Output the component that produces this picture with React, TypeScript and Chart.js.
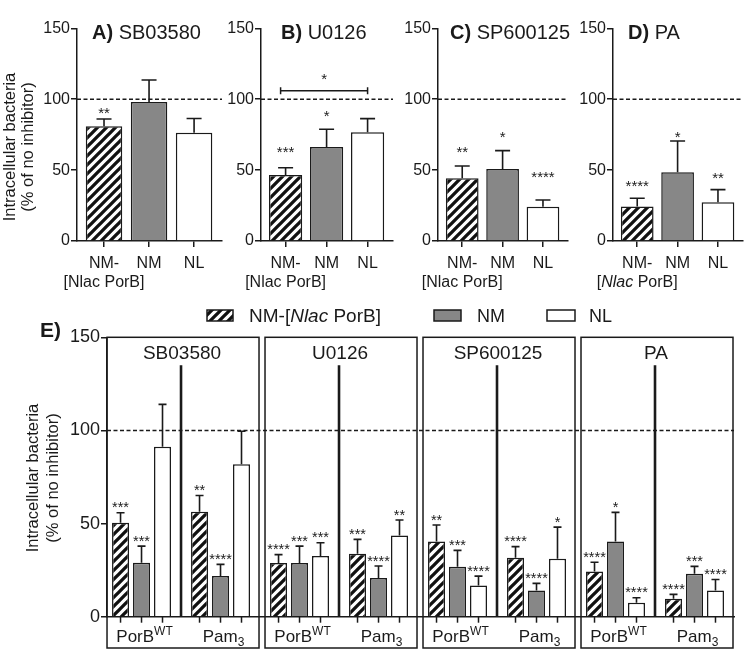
import { useEffect, useRef } from 'react';
import { Chart, registerables } from 'chart.js';

Chart.register(...registerables);

const FAMILY = '"Liberation Sans", Arial, Helvetica, sans-serif';
const INK = '#1a1a1a';
const GREY = '#878787';
const W = 754;
const H = 653;

// ---------- Panels A–D ----------
const inhibitors = ['SB03580', 'U0126', 'SP600125', 'PA'];
const panelLetters = ['A)', 'B)', 'C)', 'D)'];
const strains = ['NM-[Nlac PorB]', 'NM', 'NL'];
const topLabels = [['NM-', '[Nlac PorB]'], ['NM'], ['NL']];
const topLabelsD = [['NM-', ' '], ['NM'], ['NL']];
const yTickValues = [0, 50, 100, 150];
const refLevel = 100;

const meanA = [81, 98, 76.3];
const errA = [86, 113.5, 86.4];
const meanB = [46.5, 66.3, 76.7];
const errB = [51.7, 78.8, 86.3];
const meanC = [44.2, 50.8, 24.2];
const errC = [52.9, 63.7, 28.9];
const meanD = [24.4, 48.4, 27.3];
const errD = [30.1, 70.5, 36.2];

const sigA = ['**', '', ''];
const sigB = ['***', '*', ''];
const sigC = ['**', '*', '****'];
const sigD = ['****', '*', '**'];
const sigLevelA = [93, 0, 0];
const sigLevelB = [65.4, 90.5, 0];
const sigLevelC = [65.4, 76.2, 47.7];
const sigLevelD = [41.4, 76, 47];

const bracketB = [0, 2];
const bracketLevelB = 106;
const bracketSigB = '*';
const bracketSigLevelB = 117;

// ---------- Panel E ----------
const groupsE = ['SB03580', 'U0126', 'SP600125', 'PA'];
const stimuliE = ['PorB', 'Pam'];
const stimuliMarks = ['WT', '3'];
const hatchE = [50.4, 56.4, 28.8, 33.8, 40.4, 31.7, 24.2, 9.7];
const hatchErrE = [55.8, 65.1, 33.3, 41.5, 49.2, 37.6, 29.2, 12.0];
const nmE = [29, 21.8, 28.8, 20.8, 26.8, 14, 40.4, 23.1];
const nmErrE = [37.9, 28.1, 37.9, 27.2, 35.6, 17.9, 56, 27];
const nlE = [91.2, 81.8, 32.6, 43.6, 16.8, 31.1, 7.5, 14];
const nlErrE = [114, 99.6, 39.7, 51.9, 21.8, 48.1, 10.2, 20];
const hatchSigE = ['***', '**', '****', '***', '**', '****', '****', '****'];
const nmSigE = ['***', '****', '***', '****', '***', '****', '*', '***'];
const nlSigE = ['', '', '***', '**', '****', '*', '****', '****'];
const dividerLevelE = 135;

// ---------- layout constants ----------
const TOP_AREAS = [[77, 222], [261, 393], [438, 568], [613, 743]];
const TOP_TITLE_X = [92, 281, 450, 628];
const TOP_Y = 28.3;
const TOP_BOTTOM = 241;
const E_LEFT = 107;
const E_RIGHT = 734;
const E_TOP = 337.3;
const E_BOTTOM = 616.7;
const X_LABEL_PAD = 7;

function f(size: number, style = '') {
  return `${style} ${size}px ${FAMILY}`.trim();
}

function makeHatch(): CanvasPattern {
  const s = 9;
  const c = document.createElement('canvas');
  c.width = s;
  c.height = s;
  const g = c.getContext('2d')!;
  g.fillStyle = '#fff';
  g.fillRect(0, 0, s, s);
  g.strokeStyle = '#111';
  g.lineWidth = 3.3;
  g.beginPath();
  g.moveTo(-1, s + 1);
  g.lineTo(s + 1, -1);
  g.moveTo(-s / 2 - 1, s / 2 + 1);
  g.lineTo(s / 2 + 1, -s / 2 - 1);
  g.moveTo(s / 2 - 1, s * 1.5 + 1);
  g.lineTo(s * 1.5 + 1, s / 2 - 1);
  g.stroke();
  return g.createPattern(c, 'repeat')!;
}

type Run = { t: string; font: string; dy?: number };
function drawRuns(ctx: CanvasRenderingContext2D, runs: Run[], x: number, y: number, align: 'left' | 'center') {
  let total = 0;
  const widths = runs.map((r) => {
    ctx.font = r.font;
    const w = ctx.measureText(r.t).width;
    total += w;
    return w;
  });
  let cx = align === 'center' ? x - total / 2 : x;
  ctx.textAlign = 'left';
  runs.forEach((r, i) => {
    ctx.font = r.font;
    ctx.fillText(r.t, cx, y + (r.dy || 0));
    cx += widths[i];
  });
}

function dashedRef(chart: any) {
  const { ctx, chartArea: a, scales } = chart;
  const yy = scales.y.getPixelForValue(refLevel);
  ctx.save();
  ctx.strokeStyle = INK;
  ctx.lineWidth = 1.4;
  ctx.setLineDash([4, 2.5]);
  ctx.beginPath();
  ctx.moveTo(a.left, yy);
  ctx.lineTo(a.right, yy);
  ctx.stroke();
  ctx.restore();
}

function errorBar(ctx: CanvasRenderingContext2D, x: number, y0: number, y1: number, cap: number) {
  ctx.beginPath();
  ctx.moveTo(x, y0);
  ctx.lineTo(x, y1);
  ctx.moveTo(x - cap / 2, y1);
  ctx.lineTo(x + cap / 2, y1);
  ctx.stroke();
}

function yTitle(ctx: CanvasRenderingContext2D, x1: number, x2: number, cy: number, size: number) {
  ctx.save();
  ctx.fillStyle = INK;
  ctx.font = f(size);
  ctx.textAlign = 'center';
  ctx.textBaseline = 'middle';
  ctx.translate(x1, cy);
  ctx.rotate(-Math.PI / 2);
  ctx.fillText('Intracellular bacteria', 0, 0);
  ctx.restore();
  ctx.save();
  ctx.fillStyle = INK;
  ctx.font = f(size);
  ctx.textAlign = 'center';
  ctx.textBaseline = 'middle';
  ctx.translate(x2, cy);
  ctx.rotate(-Math.PI / 2);
  ctx.fillText('(% of no inhibitor)', 0, 0);
  ctx.restore();
}

function topConfig(k: number, hatch: CanvasPattern): any {
  const means = [meanA, meanB, meanC, meanD][k];
  const errs = [errA, errB, errC, errD][k];
  const sigs = [sigA, sigB, sigC, sigD][k];
  const sigLevels = [sigLevelA, sigLevelB, sigLevelC, sigLevelD][k];
  const labels = k === 3 ? topLabelsD : topLabels;
  const [left, right] = TOP_AREAS[k];
  const YW = 40;
  const XH = 50;

  const overlay = {
    id: 'topOverlay',
    beforeDatasetsDraw(chart: any) {
      dashedRef(chart);
    },
    afterDraw(chart: any) {
      const { ctx, scales } = chart;
      const y = scales.y;
      const x = scales.x;
      const meta = chart.getDatasetMeta(0);
      ctx.save();
      ctx.strokeStyle = INK;
      ctx.fillStyle = INK;
      ctx.lineWidth = 1.6;
      meta.data.forEach((bar: any, i: number) => {
        errorBar(ctx, bar.x, bar.y, y.getPixelForValue(errs[i]), 15);
        if (sigs[i]) {
          ctx.font = f(15);
          ctx.textAlign = 'center';
          ctx.textBaseline = 'alphabetic';
          ctx.fillText(sigs[i], bar.x, y.getPixelForValue(sigLevels[i]) + 8.7);
        }
      });
      if (k === 1) {
        const bx0 = x.getPixelForValue(bracketB[0]) - 5;
        const bx1 = x.getPixelForValue(bracketB[1]);
        const by = y.getPixelForValue(bracketLevelB);
        ctx.lineWidth = 1.5;
        ctx.beginPath();
        ctx.moveTo(bx0, by);
        ctx.lineTo(bx1, by);
        ctx.moveTo(bx0, by - 3.5);
        ctx.lineTo(bx0, by + 3.5);
        ctx.moveTo(bx1, by - 3.5);
        ctx.lineTo(bx1, by + 3.5);
        ctx.stroke();
        ctx.font = f(15);
        ctx.textAlign = 'center';
        ctx.textBaseline = 'alphabetic';
        ctx.fillText(bracketSigB, (bx0 + bx1) / 2, y.getPixelForValue(bracketSigLevelB) + 8.7);
      }
      ctx.textBaseline = 'alphabetic';
      drawRuns(ctx, [
        { t: panelLetters[k] + ' ', font: f(20, 'bold') },
        { t: inhibitors[k], font: f(20) },
      ], TOP_TITLE_X[k], 39, 'left');
      if (k === 3) {
        const ly = x.top + 6 + X_LABEL_PAD + 16 * 1.2 * 1.5;
        ctx.textBaseline = 'middle';
        drawRuns(ctx, [
          { t: '[', font: f(16) },
          { t: 'Nlac', font: f(16, 'italic') },
          { t: ' PorB]', font: f(16) },
        ], x.getPixelForValue(0), ly, 'center');
      }
      ctx.restore();
      if (k === 0) yTitle(ctx, 10, 28, 147, 16.5);
    },
  };

  return {
    type: 'bar',
    data: {
      datasets: [
        {
          label: strains.join(' / '),
          data: means.map((v, i) => ({ x: i, y: v })),
          backgroundColor: [hatch, GREY, '#ffffff'],
          borderColor: INK,
          borderWidth: 1.5,
          borderSkipped: 'start',
          categoryPercentage: 0.81,
          barPercentage: 1,
        },
      ],
    },
    options: {
      responsive: false,
      animation: false,
      events: [],
      layout: {
        padding: { left: left - YW, right: W - right, top: TOP_Y, bottom: H - TOP_BOTTOM - XH },
      },
      plugins: { legend: { display: false }, tooltip: { enabled: false }, title: { display: false } },
      scales: {
        x: {
          type: 'linear',
          min: -0.6,
          max: 2.62,
          offset: false,
          ticks: {
            stepSize: 1,
            includeBounds: false,
            autoSkip: false,
            maxRotation: 0,
            padding: X_LABEL_PAD,
            color: INK,
            font: { size: 16, family: FAMILY },
            callback: (v: number) => labels[v] || '',
          },
          grid: { drawOnChartArea: false, offset: false, drawTicks: true, tickLength: 6, color: INK, lineWidth: 1.5 },
          border: { color: INK, width: 1.5 },
          afterFit: (s: any) => {
            s.height = XH;
          },
        },
        y: {
          min: 0,
          max: 150,
          afterBuildTicks: (s: any) => {
            s.ticks = yTickValues.map((v) => ({ value: v }));
          },
          ticks: { padding: 1, color: INK, font: { size: 16, family: FAMILY } },
          grid: { drawOnChartArea: false, drawTicks: true, tickLength: 6, color: INK, lineWidth: 1.5 },
          border: { color: INK, width: 1.5 },
          afterFit: (s: any) => {
            s.width = YW;
          },
        },
      },
    },
    plugins: [overlay],
  };
}

function eConfig(hatch: CanvasPattern): any {
  const YW = 60;
  const XH = 30;
  const errSets = [hatchErrE, nmErrE, nlErrE];
  const sigSets = [hatchSigE, nmSigE, nlSigE];
  const fills: any[] = [hatch, GREY, '#ffffff'];
  const pxPerUnit = (E_RIGHT - E_LEFT) / 7.937;

  const overlay = {
    id: 'eOverlay',
    beforeDatasetsDraw(chart: any) {
      const { ctx, scales } = chart;
      const x = scales.x;
      const y = scales.y;
      dashedRef(chart);
      ctx.save();
      ctx.strokeStyle = INK;
      ctx.lineWidth = 1.5;
      for (let g = 0; g < groupsE.length; g++) {
        const l = x.getPixelForValue(2 * g - 0.5) + 5;
        const r = x.getPixelForValue(2 * g + 1.5) - 1;
        ctx.strokeRect(l, y.getPixelForValue(150), r - l, 648 - y.getPixelForValue(150));
      }
      ctx.lineWidth = 2.6;
      for (let g = 0; g < groupsE.length; g++) {
        const dx = x.getPixelForValue(2 * g + 0.5);
        ctx.beginPath();
        ctx.moveTo(dx, y.getPixelForValue(dividerLevelE));
        ctx.lineTo(dx, y.getPixelForValue(0));
        ctx.stroke();
      }
      ctx.restore();
    },
    afterDraw(chart: any) {
      const { ctx, scales } = chart;
      const x = scales.x;
      const y = scales.y;
      ctx.save();
      ctx.strokeStyle = INK;
      ctx.fillStyle = INK;
      for (let d = 0; d < 3; d++) {
        const meta = chart.getDatasetMeta(d);
        meta.data.forEach((bar: any, i: number) => {
          ctx.lineWidth = 1.6;
          const top = y.getPixelForValue(errSets[d][i]);
          errorBar(ctx, bar.x, bar.y, top, 8);
          ctx.lineWidth = 1.5;
          ctx.beginPath();
          ctx.moveTo(bar.x, y.getPixelForValue(0));
          ctx.lineTo(bar.x, y.getPixelForValue(0) + 6);
          ctx.stroke();
          if (sigSets[d][i]) {
            ctx.font = f(14.5);
            ctx.textAlign = 'center';
            ctx.textBaseline = 'alphabetic';
            ctx.fillText(sigSets[d][i], bar.x, top - 0.5);
          }
        });
      }
      // category labels
      ctx.textBaseline = 'alphabetic';
      for (let i = 0; i < 8; i++) {
        const s = i % 2;
        const cx = x.getPixelForValue(i) + 3;
        drawRuns(ctx, [
          { t: stimuliE[s], font: f(17) },
          { t: stimuliMarks[s], font: f(12), dy: s === 0 ? -7 : 4 },
        ], cx, 642, 'center');
      }
      // box titles
      ctx.font = f(19);
      ctx.textAlign = 'center';
      for (let g = 0; g < groupsE.length; g++) {
        ctx.fillText(groupsE[g], x.getPixelForValue(2 * g + 0.5) + 1, 359);
      }
      // legend
      const sw = [[207, 233], [434, 461], [547, 575]];
      for (let d = 0; d < 3; d++) {
        ctx.fillStyle = fills[d];
        ctx.fillRect(sw[d][0], 310, sw[d][1] - sw[d][0], 11);
        ctx.lineWidth = 1.5;
        ctx.strokeStyle = INK;
        ctx.strokeRect(sw[d][0], 310, sw[d][1] - sw[d][0], 11);
      }
      ctx.fillStyle = INK;
      ctx.textBaseline = 'alphabetic';
      drawRuns(ctx, [
        { t: 'NM-[', font: f(19) },
        { t: 'Nlac', font: f(19, 'italic') },
        { t: ' PorB]', font: f(19) },
      ], 249, 322, 'left');
      drawRuns(ctx, [{ t: strains[1], font: f(18) }], 477, 322, 'left');
      drawRuns(ctx, [{ t: strains[2], font: f(18) }], 589, 322, 'left');
      // panel label
      drawRuns(ctx, [{ t: 'E)', font: f(21, 'bold') }], 40, 337, 'left');
      ctx.restore();
      yTitle(ctx, 33, 53, 478, 16.5);
    },
  };

  const series = [hatchE, nmE, nlE];
  return {
    type: 'bar',
    data: {
      datasets: series.map((vals, d) => ({
        label: strains[d],
        data: vals.map((v, i) => ({ x: i, y: v })),
        backgroundColor: fills[d],
        borderColor: INK,
        borderWidth: 1.5,
        borderSkipped: 'start',
        categoryPercentage: 0.797,
        barPercentage: 0.81,
      })),
    },
    options: {
      responsive: false,
      animation: false,
      events: [],
      layout: {
        padding: { left: E_LEFT - YW, right: W - E_RIGHT, top: E_TOP, bottom: H - E_BOTTOM - XH },
      },
      plugins: { legend: { display: false }, tooltip: { enabled: false }, title: { display: false } },
      scales: {
        x: {
          type: 'linear',
          min: 7.5 - (E_RIGHT - E_LEFT) / pxPerUnit,
          max: 7.5,
          offset: false,
          ticks: { display: false, stepSize: 1, includeBounds: false, autoSkip: false },
          grid: { display: false, offset: false },
          border: { color: INK, width: 1.5 },
          afterFit: (s: any) => {
            s.height = XH;
          },
        },
        y: {
          min: 0,
          max: 150,
          afterBuildTicks: (s: any) => {
            s.ticks = yTickValues.map((v) => ({ value: v }));
          },
          ticks: { padding: 1, color: INK, font: { size: 18, family: FAMILY } },
          grid: { drawOnChartArea: false, drawTicks: true, tickLength: 6, color: INK, lineWidth: 1.5 },
          border: { color: INK, width: 1.5 },
          afterFit: (s: any) => {
            s.width = YW;
          },
        },
      },
    },
    plugins: [overlay],
  };
}

export default function App() {
  const refs = useRef<(HTMLCanvasElement | null)[]>([]);
  useEffect(() => {
    const hatch = makeHatch();
    const charts: Chart[] = [];
    for (let k = 0; k < 4; k++) {
      charts.push(new Chart(refs.current[k]!, topConfig(k, hatch)));
    }
    charts.push(new Chart(refs.current[4]!, eConfig(hatch)));
    return () => charts.forEach((c) => c.destroy());
  }, []);
  return (
    <div style={{ position: 'absolute', left: 0, top: 0, width: W, height: H, background: '#fff', overflow: 'hidden' }}>
      {[0, 1, 2, 3, 4].map((i) => (
        <canvas
          key={i}
          ref={(el) => {
            refs.current[i] = el;
          }}
          width={W}
          height={H}
          style={{ position: 'absolute', left: 0, top: 0, width: W, height: H }}
        />
      ))}
    </div>
  );
}
